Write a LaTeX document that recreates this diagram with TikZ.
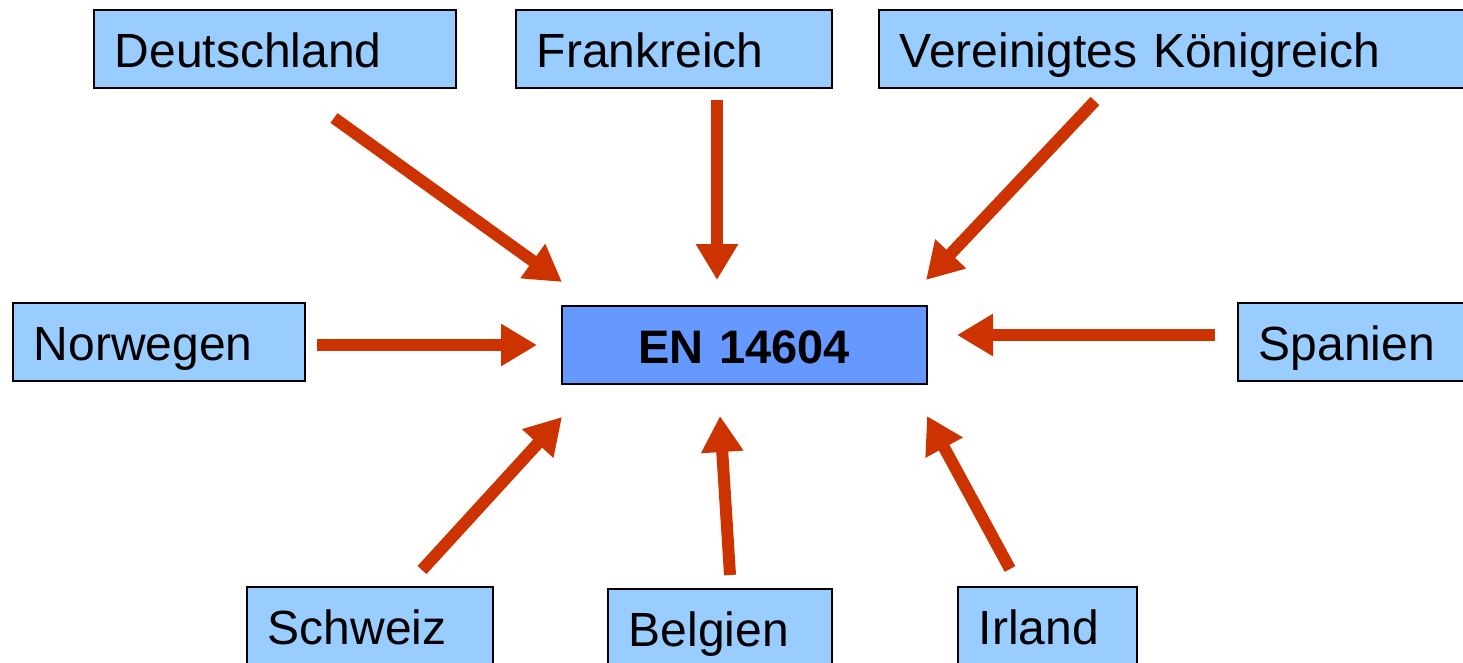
\documentclass[tikz,border=0pt]{standalone}
\usepackage{fontspec}
\setmainfont{Liberation Sans}
\usetikzlibrary{arrows.meta}

\definecolor{boxblue}{HTML}{99CCFF}
\definecolor{centerblue}{HTML}{6699FF}
\definecolor{arrowred}{HTML}{CC3300}

\tikzset{
  country/.style={draw=black, line width=1.5pt, fill=boxblue,
    inner xsep=21pt, inner ysep=0pt, text height=40pt, text depth=2pt,
    minimum height=78pt, align=left, anchor=north west,
    font=\fontsize{48}{57}\selectfont},
  hub/.style={country, fill=centerblue, align=center,
    font=\fontsize{47}{56}\selectfont\bfseries},
  feed/.style={draw=arrowred, line width=12pt,
    -{Triangle[length=36pt,width=40pt]}}
}

\begin{document}
\begin{tikzpicture}[x=1pt,y=-1pt]
  \useasboundingbox (0,0) rectangle (1463,662);
  \clip (0,0) rectangle (1463,662);

  % country boxes
  \node[country, text width=320pt] (de) at (93,9)   {Deutschland};
  \node[country, text width=274pt] (fr) at (515,9)  {Frankreich};
  \node[country, text width=560pt] (uk) at (878,9)  {Vereinigtes Königreich};
  \node[country, text width=250pt] (no) at (12,302) {Norwegen};
  \node[country, text width=260pt] (es) at (1237,302) {Spanien};
  \node[country, text width=204pt] (ch) at (246,586) {Schweiz};
  \node[country, text width=182pt] (be) at (607,588) {Belgien};
  \node[country, text width=137pt] (ie) at (957,586) {Irland};

  % the standard in the middle
  \node[hub, text width=323pt] (en) at (561,305) {EN 14604};

  % arrow tails and tips
  \coordinate (deT) at (334,118);  \coordinate (deH) at (562,282);
  \coordinate (frT) at (717,100);  \coordinate (frH) at (717,280);
  \coordinate (ukT) at (1095,101); \coordinate (ukH) at (926,280);
  \coordinate (noT) at (317,345);  \coordinate (noH) at (537,345);
  \coordinate (esT) at (1215,335); \coordinate (esH) at (957,335);
  \coordinate (chT) at (422,570);  \coordinate (chH) at (562,417);
  \coordinate (beT) at (730,575);  \coordinate (beH) at (720,416);
  \coordinate (ieT) at (1010,569); \coordinate (ieH) at (927,416);

  \draw[feed] (deT) -- (deH);
  \draw[feed] (frT) -- (frH);
  \draw[feed] (ukT) -- (ukH);
  \draw[feed] (noT) -- (noH);
  \draw[feed] (esT) -- (esH);
  \draw[feed] (chT) -- (chH);
  \draw[feed] (beT) -- (beH);
  \draw[feed] (ieT) -- (ieH);
\end{tikzpicture}
\end{document}
